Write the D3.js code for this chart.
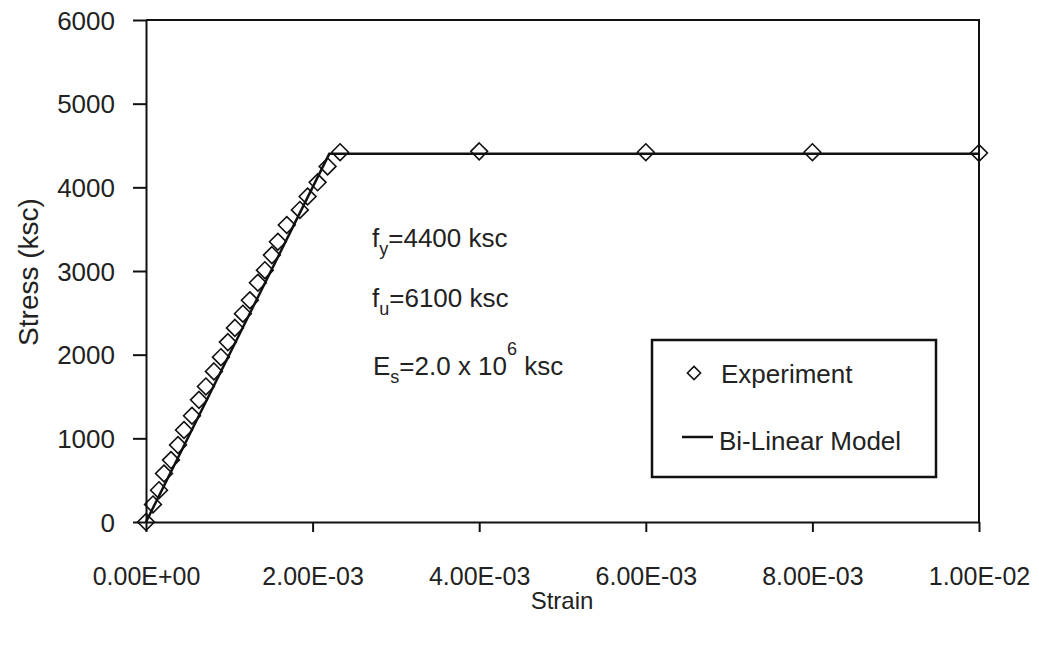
<!DOCTYPE html>
<meta charset="utf-8">
<style>
body { margin: 0; background: #fff; }
svg text { font-family: "Liberation Sans", Arial, sans-serif; }
.axis path, .axis line { stroke: #111; stroke-width: 2px; }
.axis text { fill: #222; font-family: "Liberation Sans", Arial, sans-serif; }
.frame { fill: none; stroke: #111; stroke-width: 2px; }
.model { fill: none; stroke: #111; stroke-width: 2.5px; }
.exp { fill: none; stroke: #111; stroke-width: 1.6px; }
.note { font-size: 26px; fill: #222; }
.legend-box { fill: #fff; stroke: #111; stroke-width: 2.5px; }
</style>
<body>
<svg width="1039" height="645"></svg>

<script src="https://cdn.jsdelivr.net/npm/d3@7"></script>
<script>

// experimental points (strain, stress in ksc)
let expStrain = [0, 0.000084, 0.000156, 0.000216, 0.0003, 0.000384, 0.000456, 0.000552,
  0.000636, 0.000719, 0.000815, 0.000899, 0.000983, 0.001067, 0.001163, 0.001247,
  0.001343, 0.001427, 0.001511, 0.001583, 0.00169, 0.001847, 0.00194, 0.00206,
  0.00218, 0.00233, 0.004, 0.006, 0.008, 0.01];
let expStress = [0, 210, 380, 580, 740, 920, 1100, 1270,
  1460, 1620, 1800, 1970, 2150, 2320, 2490, 2650,
  2860, 3010, 3190, 3350, 3550, 3730, 3890, 4060,
  4250, 4420, 4430, 4420, 4420, 4410];

// bi-linear model
let modelStrain = [0, 0.0022, 0.01];
let modelStress = [0, 4400, 4400];

let xTicks = [0, 0.002, 0.004, 0.006, 0.008, 0.01];
let yTicks = [0, 1000, 2000, 3000, 4000, 5000, 6000];

let svg = d3.select('svg');

let x = d3.scaleLinear().domain([0, 0.01]).range([146, 979]);
let y = d3.scaleLinear().domain([0, 6000]).range([522, 20]);

// excel style 0.00E+00
function sci(d) {
  let s = d.toExponential(2).toUpperCase().split('E');
  let e = +s[1];
  return s[0] + 'E' + (e < 0 ? '-' : '+') + String(Math.abs(e)).padStart(2, '0');
}

// plot frame (top + right)
svg.append('path')
  .attr('class', 'frame')
  .attr('d', 'M' + x(0) + ',' + y(6000) + 'H' + x(0.01) + 'V' + y(0));

let yAxis = svg.append('g')
  .attr('class', 'axis')
  .attr('transform', 'translate(' + x(0) + ',0)')
  .call(d3.axisLeft(y).tickValues(yTicks).tickFormat(d3.format('d'))
    .tickSize(13).tickSizeOuter(0).tickPadding(18));
yAxis.attr('font-family', null);
yAxis.selectAll('text').style('font-size', '26px').attr('dy', '0.35em');

let xAxis = svg.append('g')
  .attr('class', 'axis')
  .attr('transform', 'translate(0,' + y(0) + ')')
  .call(d3.axisBottom(x).tickValues(xTicks).tickFormat(sci)
    .tickSize(10).tickSizeOuter(0).tickPadding(35));
xAxis.attr('font-family', null);
xAxis.selectAll('text').style('font-size', '25px');

// axis titles
svg.append('text')
  .attr('transform', 'translate(38,272) rotate(-90)')
  .attr('text-anchor', 'middle')
  .style('font-size', '28px')
  .attr('fill', '#222')
  .text('Stress (ksc)');

svg.append('text')
  .attr('x', 562).attr('y', 609)
  .attr('text-anchor', 'middle')
  .style('font-size', '24px')
  .attr('fill', '#222')
  .text('Strain');

// model line
let line = d3.line()
  .x(function(d) { return x(d[0]); })
  .y(function(d) { return y(d[1]); });

svg.append('path')
  .attr('class', 'model')
  .datum(d3.zip(modelStrain, modelStress))
  .attr('d', line);

// experiment diamonds
let diamond = d3.symbol().type(d3.symbolDiamond2).size(180);
svg.append('g')
  .selectAll('path')
  .data(d3.zip(expStrain, expStress))
  .enter()
  .append('path')
  .attr('class', 'exp')
  .attr('transform', function(d) { return 'translate(' + x(d[0]) + ',' + y(d[1]) + ')'; })
  .attr('d', diamond);

// notes
let n1 = svg.append('text').attr('class', 'note').attr('x', 372).attr('y', 247);
n1.append('tspan').text('f');
n1.append('tspan').attr('dy', 8).style('font-size', '18px').text('y');
n1.append('tspan').attr('dy', -8).text('=4400 ksc');

let n2 = svg.append('text').attr('class', 'note').attr('x', 372).attr('y', 307);
n2.append('tspan').text('f');
n2.append('tspan').attr('dy', 8).style('font-size', '18px').text('u');
n2.append('tspan').attr('dy', -8).text('=6100 ksc');

let n3 = svg.append('text').attr('class', 'note').attr('x', 373).attr('y', 375);
n3.append('tspan').text('E');
n3.append('tspan').attr('dy', 8).style('font-size', '18px').text('s');
n3.append('tspan').attr('dy', -8).text('=2.0 x 10');
n3.append('tspan').attr('dy', -20).style('font-size', '18px').text('6');
n3.append('tspan').attr('dy', 20).text(' ksc');

// legend
let lg = svg.append('g');
lg.append('rect').attr('class', 'legend-box')
  .attr('x', 652).attr('y', 340).attr('width', 284).attr('height', 137);
lg.append('path').attr('class', 'exp')
  .attr('transform', 'translate(694,373)')
  .attr('d', d3.symbol().type(d3.symbolDiamond2).size(110));
lg.append('text').attr('class', 'note').attr('x', 721).attr('y', 383).text('Experiment');
lg.append('line')
  .attr('x1', 682).attr('x2', 713).attr('y1', 437).attr('y2', 437)
  .attr('stroke', '#111').attr('stroke-width', 2.5);
lg.append('text').attr('class', 'note').attr('x', 719).attr('y', 450).text('Bi-Linear Model');

</script>
</body>
